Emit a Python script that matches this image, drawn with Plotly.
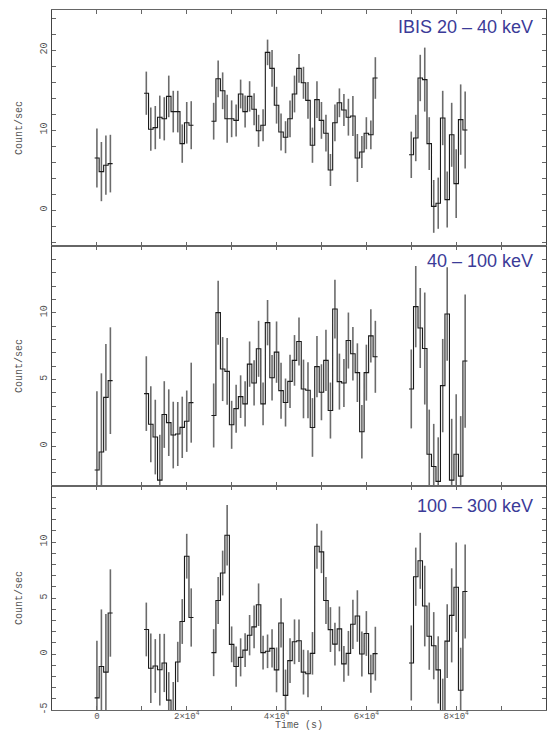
import plotly.graph_objects as go
from plotly.subplots import make_subplots

# ---------------- data ----------------
bin_width = 1000  # s
time_s = ([0, 1000, 2000, 3000] +
          [11000, 12000, 13000, 14000, 15000, 16000, 17000, 18000, 19000, 20000, 21000] +
          [26000, 27000, 28000, 29000, 30000, 31000, 32000, 33000, 34000, 35000, 36000, 37000,
           38000, 39000, 40000, 41000, 42000, 43000, 44000, 45000, 46000, 47000, 48000, 49000,
           50000, 51000, 52000, 53000, 54000, 55000, 56000, 57000, 58000, 59000, 60000, 61000,
           62000] +
          [70000, 71000, 72000, 73000, 74000, 75000, 76000, 77000, 78000, 79000, 80000, 81000,
           82000])

rate_20_40 = ([6.5, 4.8, 5.6, 5.8] +
              [14.6, 10.1, 10.3, 11.6, 11.4, 14.2, 12.3, 12.3, 8.3, 10.9, 10.6] +
              [11.1, 16.4, 14.9, 11.4, 11.4, 11.2, 14.5, 12.3, 14.2, 12.6, 9.9, 10.6, 19.7, 17.7,
               13.1, 9.75, 9.1, 11.4, 14.5, 17.7, 15.9, 13.7, 8.1, 13.8, 11.2, 9.6, 5.0, 10.9,
               13.4, 12.5, 11.6, 11.75, 6.5, 7.25, 9.6, 9.4, 16.5] +
              [6.9, 9.0, 16.5, 16.3, 8.3, 0.45, 0.85, 11.5, 1.3, 9.4, 3.3, 11.3, 10.0])
err_20_40 = ([3.7, 3.7, 3.7, 3.6] +
             [2.7, 2.7, 2.7, 2.7, 2.7, 2.6, 2.6, 2.6, 2.4, 2.6, 3.0] +
             [2.3, 2.3, 2.3, 3.0, 2.3, 2.0, 1.8, 2.0, 1.9, 2.0, 2.0, 2.0, 1.6, 2.3, 2.3, 2.3,
              2.0, 2.3, 2.3, 1.8, 2.0, 2.3, 2.2, 2.3, 2.3, 2.3, 2.0, 2.3, 1.8, 2.0, 2.3, 2.5,
              3.0, 2.0, 2.0, 1.8, 2.6] +
             [2.9, 2.9, 2.9, 4.0, 3.3, 3.3, 3.2, 3.4, 3.5, 4.0, 4.3, 4.4, 4.8])

rate_40_100 = ([-1.8, -0.45, 3.65, 4.9] +
               [3.93, 1.63, 0.67, -2.56, 2.36, 1.75, 0.82, 0.9, 1.4, 1.86, 3.25] +
               [2.29, 10.0, 5.77, 5.6, 1.59, 2.8, 3.7, 3.16, 6.14, 4.73, 7.29, 3.16, 9.25, 5.12,
                7.04, 4.15, 3.26, 4.85, 6.42, 7.84, 4.28, 4.18, 1.39, 5.95, 4.03, 6.42, 2.66,
                10.27, 4.83, 4.73, 7.91, 6.92, 5.5, 1.07, 5.5, 8.26, 6.69] +
               [4.28, 10.45, 8.85, 7.31, -0.62, -1.54, -2.65, 4.53, 9.9, -2.56, -0.62, -2.26, 6.37])
err_40_100 = ([5.9, 5.9, 4.0, 4.0] +
              [2.8, 2.85, 2.8, 3.4, 2.5, 2.5, 2.5, 2.4, 2.3, 2.3, 3.0] +
              [2.4, 2.4, 2.4, 2.5, 1.8, 1.8, 1.6, 1.7, 1.7, 1.7, 2.1, 1.6, 1.7, 1.7, 2.3, 2.1,
               1.8, 2.0, 1.9, 1.8, 2.2, 2.1, 2.2, 2.3, 2.1, 2.3, 2.1, 2.2, 2.1, 1.8, 2.1, 2.0,
               2.2, 2.0, 2.1, 2.0, 2.7] +
              [2.96, 3.05, 3.0, 4.2, 3.35, 3.2, 3.3, 3.5, 3.5, 4.6, 4.5, 4.5, 5.0])

rate_100_300 = ([-3.92, -1.12, -1.62, 3.66] +
                [2.19, -1.27, -1.07, -1.4, -0.8, -4.12, -5.2, -0.71, 2.9, 8.73, 3.26] +
                [0.12, 4.78, 7.23, 10.6, 0.86, -1.12, -0.3, 0.35, 1.68, 2.42, 4.4, 0.12, 0.24,
                 0.5, -1.42, 2.77, -3.69, -0.59, 1.09, 1.18, -1.62, -1.77, 0.06, 9.62, 9.12,
                 4.78, 2.18, 0.88, 2.24, -0.88, 0.06, 2.65, 3.39, 0.0, 1.83, -1.77, 0.03] +
                [-0.8, 6.9, 8.32, 4.28, 1.59, 0.74, -1.42, -6.0, 1.15, 3.45, 5.96, -3.24, 5.58])
err_100_300 = ([5.1, 5.1, 5.2, 3.9] +
               [2.4, 3.1, 2.4, 3.2, 2.6, 2.5, 2.7, 1.8, 2.0, 2.0, 2.6] +
               [2.1, 2.1, 2.0, 2.7, 1.6, 1.8, 1.7, 1.5, 1.8, 1.9, 1.9, 1.5, 1.5, 1.7, 2.0, 2.2,
                2.3, 2.0, 2.0, 1.9, 2.0, 2.1, 1.9, 2.0, 1.9, 2.1, 2.0, 1.9, 2.0, 1.6, 2.0, 2.2,
                2.3, 2.0, 2.0, 1.7, 2.4] +
               [3.35, 2.6, 2.5, 3.6, 3.0, 3.0, 3.0, 3.8, 3.3, 4.2, 4.0, 3.8, 4.2])

band_labels = ["IBIS 20 – 40 keV", "40 – 100 keV", "100 – 300 keV"]
y_title = "Count/sec"
x_title = "Time (s)"
y_ranges = [[-4.5, 25], [-3, 15], [-5, 15]]
y_tickvals = [list(range(-4, 26, 2)), list(range(-3, 16)), list(range(-5, 16))]
y_labelled = [[0, 10, 20], [0, 5, 10], [-5, 0, 5, 10]]
x_tickvals = [-10000, 0, 10000, 20000, 30000, 40000, 50000, 60000, 70000, 80000, 90000, 100000]
x_ticklabels = ["", "0", "", "2×10<sup>4</sup>", "", "4×10<sup>4</sup>", "",
                "6×10<sup>4</sup>", "", "8×10<sup>4</sup>", "", "10<sup>5</sup>"]


def step_xy(t, y):
    """Histogram-style outline: each bin drawn across its full width; gaps break the line."""
    xs, ys = [], []
    half = bin_width / 2
    start = 0
    for i in range(1, len(t) + 1):
        if i == len(t) or t[i] - t[i - 1] > bin_width:
            seg_t, seg_y = t[start:i], y[start:i]
            xs += [ti - half for ti in seg_t] + [seg_t[-1] + half, None]
            ys += list(seg_y) + [seg_y[-1], None]
            start = i
    return xs, ys


fig = make_subplots(rows=3, cols=1, shared_xaxes=True, vertical_spacing=0,
                    row_heights=[236, 240, 224])

series = [(rate_20_40, err_20_40), (rate_40_100, err_40_100), (rate_100_300, err_100_300)]
for r, (rate, err) in enumerate(series, start=1):
    fig.add_trace(go.Scatter(
        x=time_s, y=rate, mode="markers",
        marker=dict(size=1, color="rgba(0,0,0,0)"),
        error_y=dict(type="data", array=err, width=0, thickness=1.6, color="#6b6b6b"),
        showlegend=False, hoverinfo="skip"), row=r, col=1)
    sx, sy = step_xy(time_s, rate)
    fig.add_trace(go.Scatter(
        x=sx, y=sy, mode="lines", line=dict(color="#1a1a1a", width=1.1, shape="hv"),
        connectgaps=False, showlegend=False, hoverinfo="skip"), row=r, col=1)

mono = "Liberation Mono, DejaVu Sans Mono, monospace"
axis_line = "#666666"
text_grey = "#555555"

for r in range(1, 4):
    fig.update_xaxes(
        range=[-10000, 100000], tickvals=x_tickvals, ticktext=x_ticklabels,
        showticklabels=(r == 3), ticks="inside", ticklen=4, tickcolor=axis_line,
        showline=True, linecolor=axis_line, linewidth=1,
        mirror="allticks", showgrid=False, zeroline=False, automargin=False,
        ticklabelstandoff=-3,
        tickfont=dict(family=mono, size=9, color=text_grey), row=r, col=1)
    ticktext = [str(v) if v in y_labelled[r - 1] else "" for v in y_tickvals[r - 1]]
    fig.update_yaxes(
        range=y_ranges[r - 1], tickvals=y_tickvals[r - 1], ticktext=ticktext,
        tickangle=-90, ticks="inside", ticklen=4, tickcolor=axis_line,
        showline=True, linecolor="#444444", linewidth=1, mirror="allticks",
        showgrid=False, zeroline=False, automargin=False,
        tickfont=dict(family=mono, size=10, color=text_grey),
        row=r, col=1)
    yref = "y domain" if r == 1 else f"y{r} domain"
    fig.add_annotation(text=y_title, xref="paper", yref=yref, x=-0.067, y=0.5,
                       xanchor="center", yanchor="middle", textangle=-90, showarrow=False,
                       font=dict(family=mono, size=10, color=text_grey))

fig.add_annotation(text=x_title, xref="paper", yref="paper", x=0.5, y=-0.0115,
                   xanchor="center", yanchor="top", showarrow=False,
                   font=dict(family=mono, size=10, color=text_grey))

label_y = [0.928, 0.936, 0.909]
for r, (txt, yy) in enumerate(zip(band_labels, label_y), start=1):
    xref = "x domain" if r == 1 else f"x{r} domain"
    yref = "y domain" if r == 1 else f"y{r} domain"
    fig.add_annotation(text=txt, xref=xref, yref=yref, x=0.978, y=yy,
                       xanchor="right", yanchor="middle", showarrow=False,
                       font=dict(family="Liberation Sans, Arial, sans-serif", size=18,
                                 color="#3b3b98"))

fig.update_layout(width=552, height=731, margin=dict(l=52, r=6, t=10, b=21),
                  plot_bgcolor="white", paper_bgcolor="white")

fig.write_html("out.html", config={"displayModeBar": False},
               post_script="document.body.style.margin='0';document.body.style.padding='0';")
